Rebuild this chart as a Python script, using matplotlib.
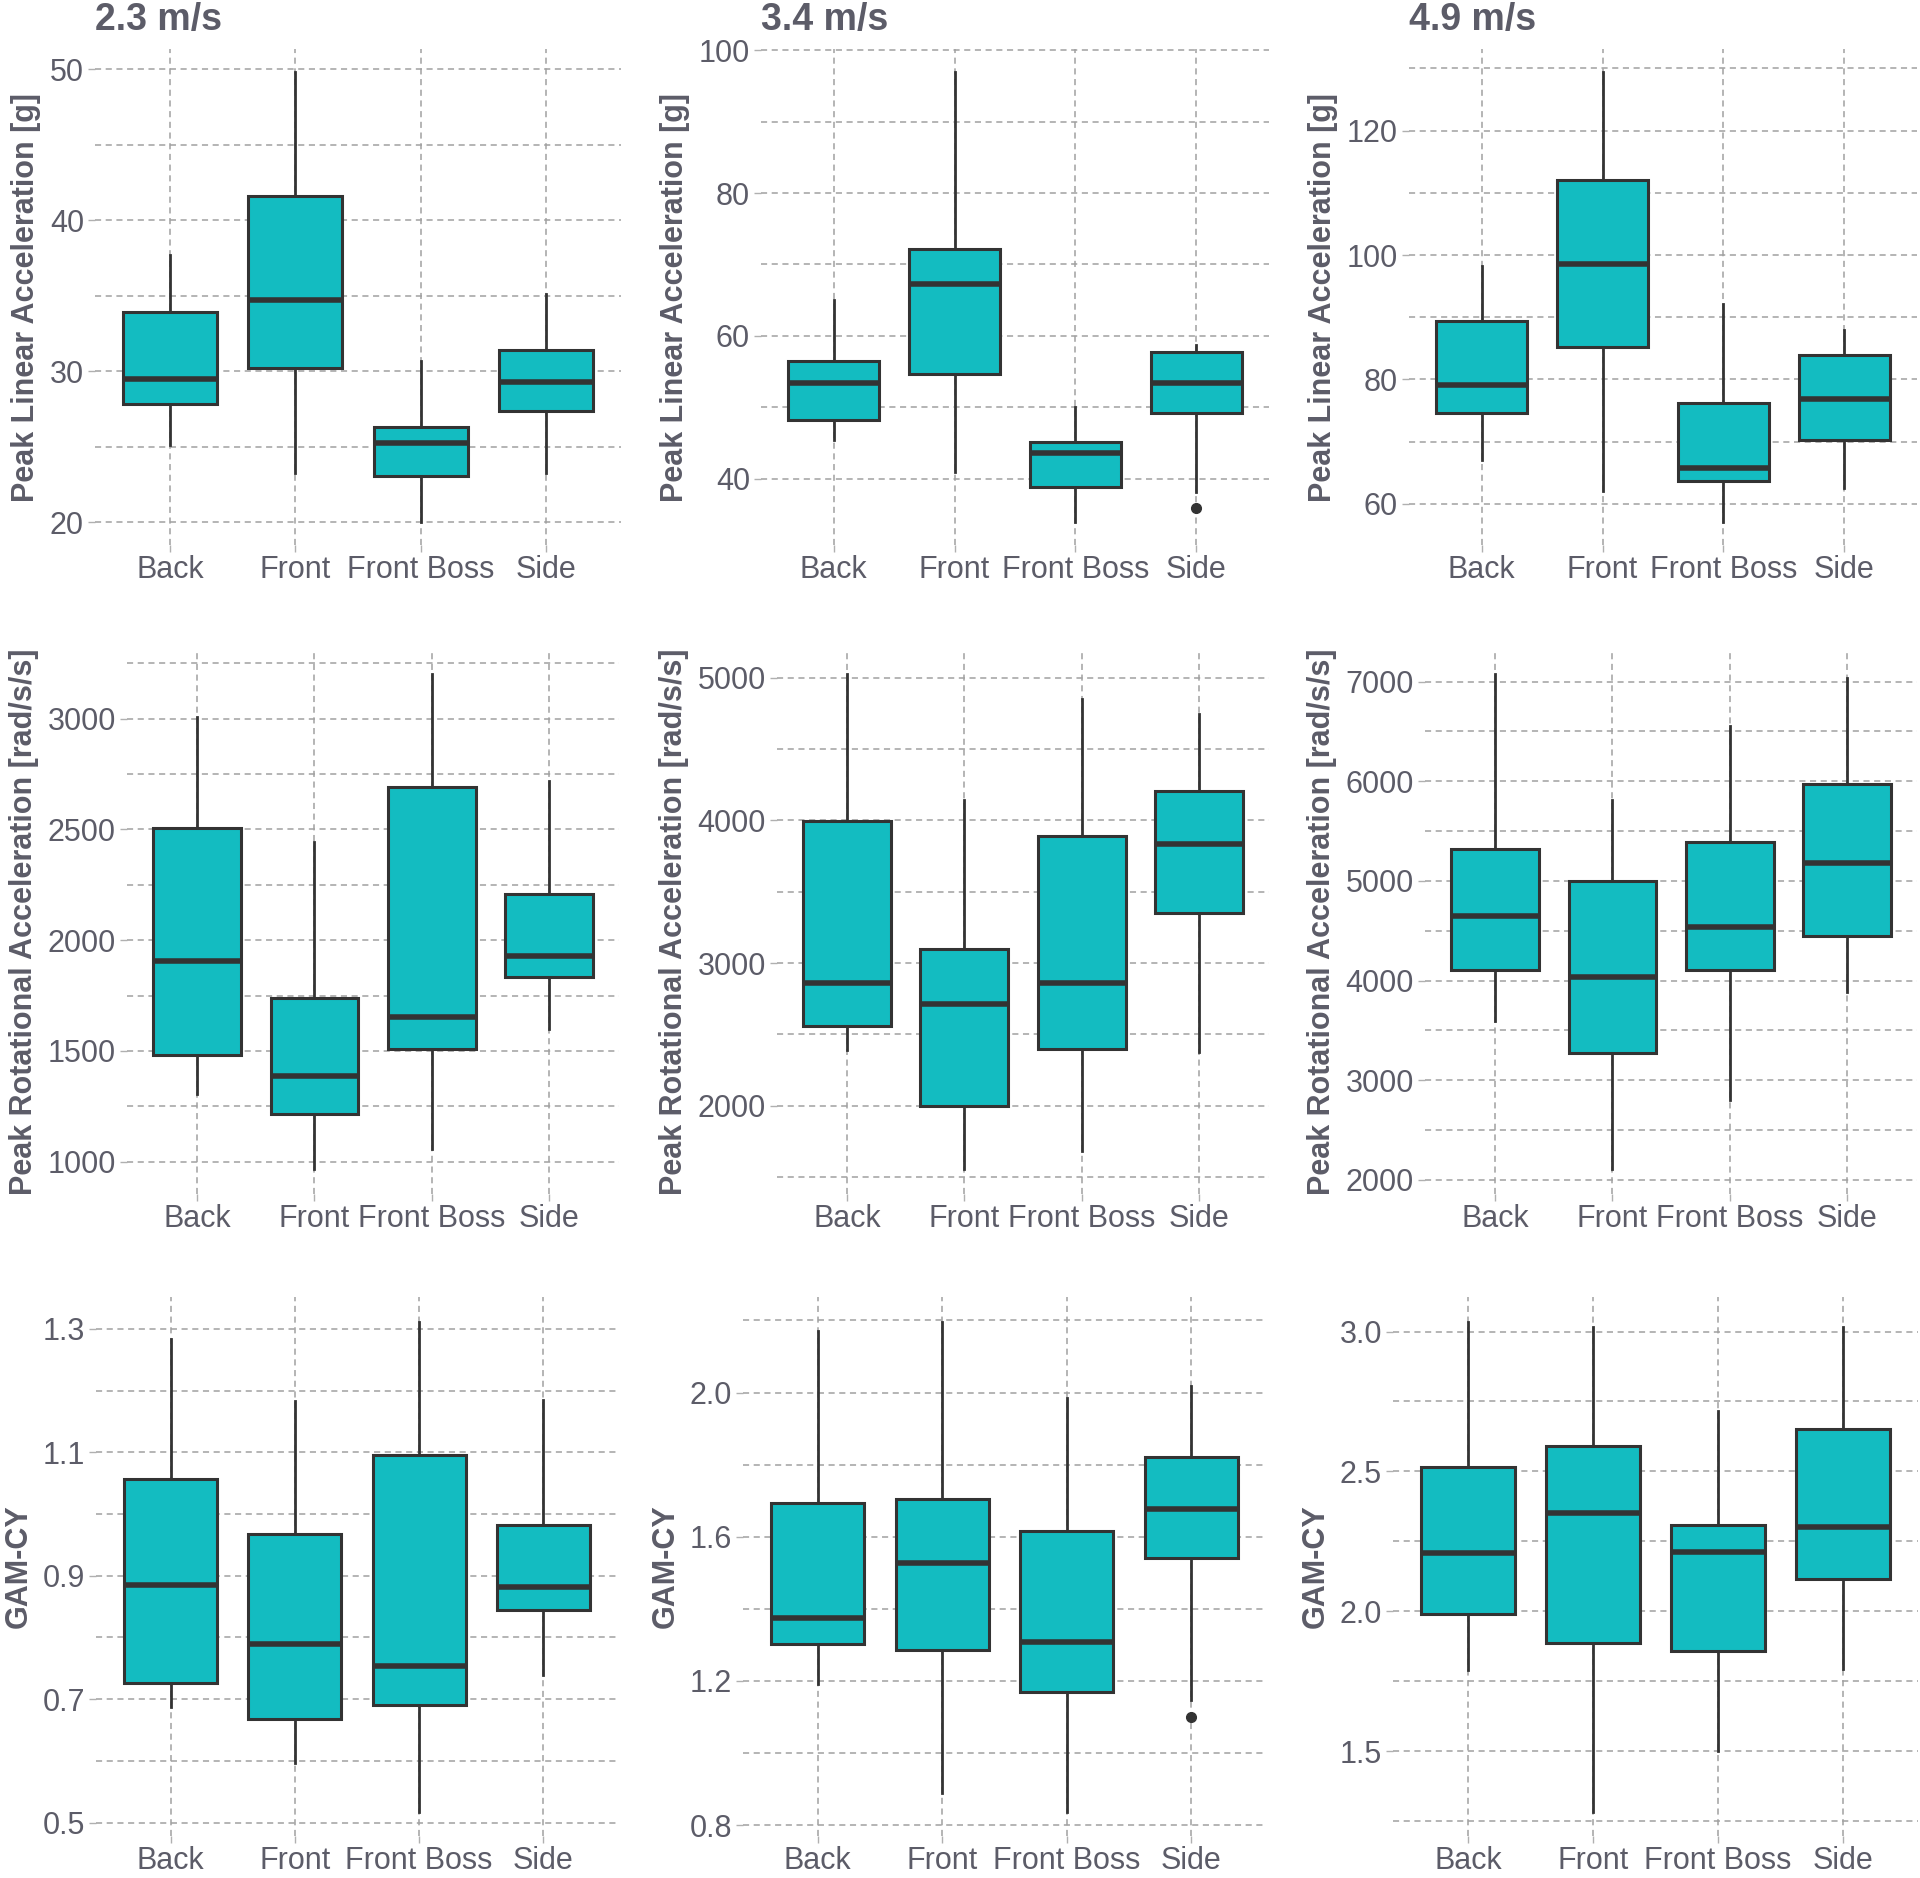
import matplotlib
matplotlib.use("Agg")
import matplotlib.pyplot as plt
from matplotlib.ticker import MultipleLocator, AutoMinorLocator, FormatStrFormatter

plt.rcParams["font.family"] = ["Liberation Sans", "DejaVu Sans"]

# --------------------------------------------------
# DATA
# --------------------------------------------------

categories = ["Back", "Front", "Front Boss", "Side"]
speeds = ["2.3 m/s", "3.4 m/s", "4.9 m/s"]
metric_labels = [
    "Peak Linear Acceleration [g]",
    "Peak Rotational Acceleration [rad/s/s]",
    "GAM-CY",
]

# one row per category: whisker low, Q1, median, Q3, whisker high
pla_23 = [[25.1, 27.85, 29.5, 33.9, 37.7], [23.3, 30.2, 34.75, 41.6, 49.85],
          [20.0, 23.1, 25.25, 26.3, 30.7], [23.3, 27.35, 29.3, 31.4, 35.1]]
pla_34 = [[45.5, 48.3, 53.4, 56.5, 65.0], [41.0, 54.7, 67.2, 72.1, 97.0],
          [33.9, 38.8, 43.6, 45.1, 50.0], [38.2, 49.2, 53.4, 57.8, 58.8]]
pla_49 = [[67.1, 74.6, 79.1, 89.4, 98.3], [62.0, 85.2, 98.55, 112.0, 129.5],
          [57.0, 63.6, 65.7, 76.2, 92.2], [62.5, 70.2, 76.8, 84.0, 88.0]]

pra_23 = [[1305, 1483, 1904, 2506, 3009], [966, 1217, 1385, 1738, 2443],
          [1057, 1510, 1653, 2690, 3202], [1599, 1833, 1929, 2206, 2716]]
pra_34 = [[2388, 2555, 2857, 3994, 5028], [1554, 2000, 2713, 3101, 4141],
          [1679, 2394, 2857, 3891, 4848], [2375, 3350, 3836, 4204, 4743]]
pra_49 = [[3595, 4111, 4647, 5321, 7079], [2107, 3270, 4036, 4996, 5810],
          [2802, 4103, 4540, 5393, 6552], [3885, 4448, 5183, 5976, 7040]]

gam_23 = [[0.688, 0.726, 0.885, 1.057, 1.284], [0.596, 0.668, 0.789, 0.968, 1.183],
          [0.518, 0.690, 0.753, 1.095, 1.312], [0.739, 0.844, 0.882, 0.983, 1.185]]
gam_34 = [[1.192, 1.303, 1.376, 1.694, 2.171], [0.888, 1.286, 1.528, 1.704, 2.197],
          [0.838, 1.169, 1.307, 1.615, 1.985], [1.148, 1.541, 1.677, 1.820, 2.017]]
gam_49 = [[1.791, 1.989, 2.209, 2.514, 3.036], [1.284, 1.885, 2.351, 2.591, 3.018],
          [1.500, 1.858, 2.212, 2.308, 2.716], [1.793, 2.115, 2.301, 2.653, 3.018]]

no_outliers = [[], [], [], []]
pla_34_outliers = [[], [], [], [35.9]]
gam_34_outliers = [[], [], [], [1.099]]

panels = [
    [pla_23, pla_34, pla_49],
    [pra_23, pra_34, pra_49],
    [gam_23, gam_34, gam_49],
]
outliers = [
    [no_outliers, pla_34_outliers, no_outliers],
    [no_outliers, no_outliers, no_outliers],
    [no_outliers, gam_34_outliers, no_outliers],
]

# --------------------------------------------------
# LAYOUT / STYLE
# --------------------------------------------------

W, H = 1920, 1878
row_y = [(49, 545), (649, 1194), (1297, 1836)]
col_x = [
    [(95, 621), (761, 1269), (1409, 1917)],
    [(127, 619), (777, 1269), (1425, 1917)],
    [(96, 618), (743, 1266), (1393, 1918)],
]
# (step, offset) of the major y ticks
major_step = [
    [(10, 0), (20, 0), (20, 0)],
    [(500, 0), (1000, 0), (1000, 0)],
    [(0.2, 0.1), (0.4, 0), (0.5, 0)],
]

FILL = "#13bcc1"
EDGE = "#333333"
TEXT = "#5c5c68"
GRID = "#a0a0a0"

fig = plt.figure(figsize=(W / 100, H / 100), dpi=100)

for r in range(3):
    for c in range(3):
        x0, x1 = col_x[r][c]
        y0, y1 = row_y[r]
        ax = fig.add_axes([x0 / W, 1 - y1 / H, (x1 - x0) / W, (y1 - y0) / H])

        rows = panels[r][c]
        stats = []
        for i, (lo, q1, med, q3, hi) in enumerate(rows):
            stats.append({"whislo": lo, "q1": q1, "med": med, "q3": q3,
                          "whishi": hi, "fliers": outliers[r][c][i]})

        ax.bxp(
            stats, positions=range(len(categories)), widths=0.75,
            patch_artist=True, showcaps=False,
            boxprops=dict(facecolor=FILL, edgecolor=EDGE, linewidth=2.2),
            medianprops=dict(color=EDGE, linewidth=4.0, solid_capstyle="butt"),
            whiskerprops=dict(color=EDGE, linewidth=2.0),
            flierprops=dict(marker="o", markerfacecolor=EDGE,
                            markeredgecolor=EDGE, markersize=7),
        )

        # ggplot-like expansion: 5% of range on y, 0.6 units on x
        vals = [v for row in rows for v in row] + [v for f in outliers[r][c] for v in f]
        lo, hi = min(vals), max(vals)
        pad = 0.05 * (hi - lo)
        ax.set_ylim(lo - pad, hi + pad)
        ax.set_xlim(-0.6, len(categories) - 0.4)

        ax.set_xticks(range(len(categories)))
        ax.set_xticklabels(categories)
        step, off = major_step[r][c]
        ax.yaxis.set_major_locator(MultipleLocator(step, offset=off))
        ax.yaxis.set_minor_locator(AutoMinorLocator(2))
        if r == 2:
            ax.yaxis.set_major_formatter(FormatStrFormatter("%.1f"))
        else:
            ax.yaxis.set_major_formatter(FormatStrFormatter("%d"))

        ax.set_axisbelow(True)
        ax.grid(True, which="major", axis="both", color=GRID,
                linestyle=(0, (4, 3)), linewidth=1.1)
        ax.grid(True, which="minor", axis="y", color=GRID,
                linestyle=(0, (4, 3)), linewidth=1.1)
        for s in ax.spines.values():
            s.set_visible(False)

        ax.tick_params(axis="both", which="major", length=5, width=1.0,
                       color="#b0b0b0", labelsize=22, labelcolor=TEXT, pad=3)
        ax.tick_params(axis="x", which="major", pad=2)
        ax.tick_params(axis="y", which="minor", length=0)

        ax.set_ylabel(metric_labels[r], fontsize=22, fontweight="bold",
                      color=TEXT, labelpad=6)
        if r == 0:
            ax.set_title(speeds[c], loc="left", fontsize=27, fontweight="bold",
                         color=TEXT, pad=14)

fig.savefig("out.png", dpi=100)
